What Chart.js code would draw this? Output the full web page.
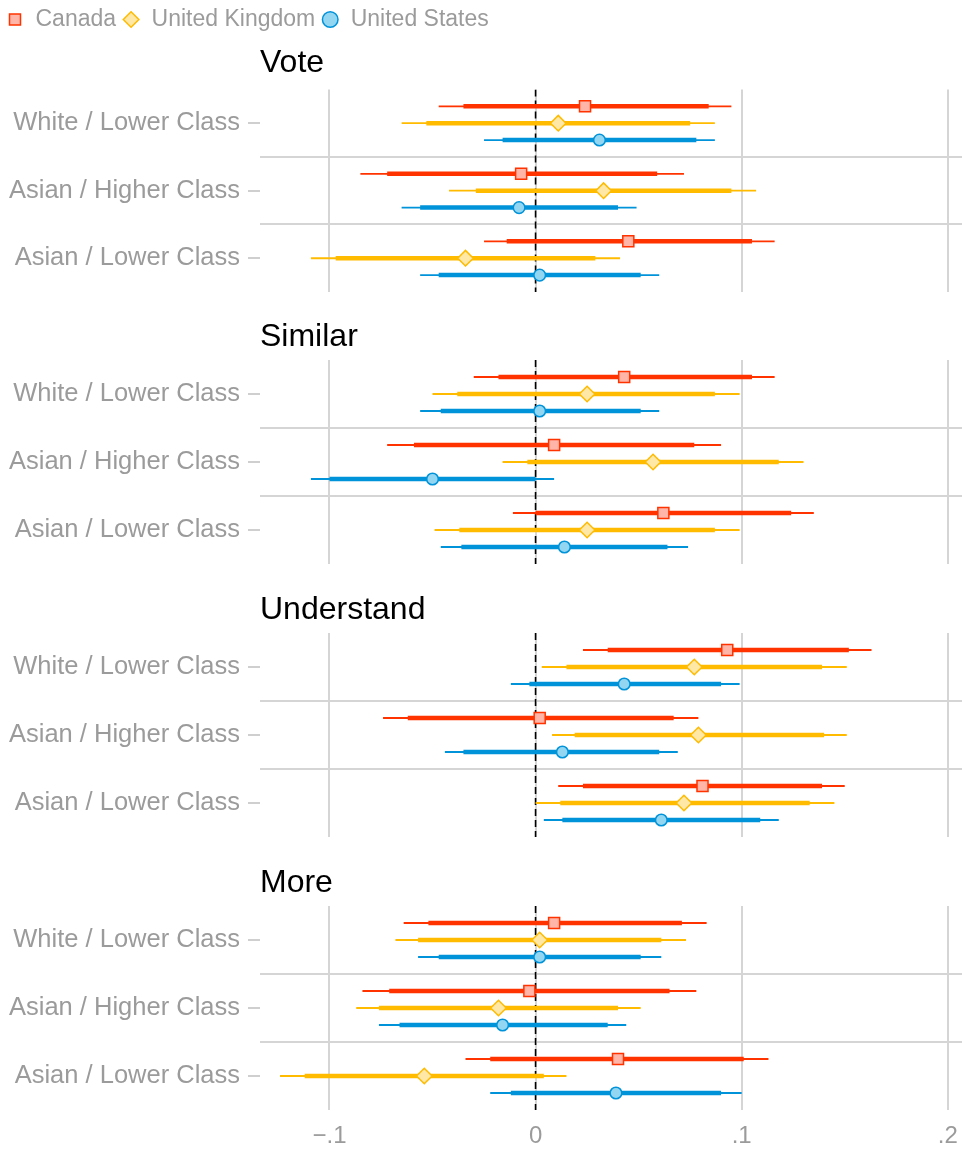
<!DOCTYPE html>
<html>
<head>
<meta charset="utf-8">
<script src="https://cdn.jsdelivr.net/npm/chart.js@4.4.1/dist/chart.umd.min.js"></script>
<style>
  body { margin: 0; background: #fff; overflow: hidden; }
  #wrap { position: relative; width: 962px; height: 1152px; overflow: hidden; }
  .panel { position: absolute; left: 0; width: 962px; }
</style>
</head>
<body>
<div id="wrap">
  <div class="panel" style="top:0px;height:292px"><canvas id="c0"></canvas></div>
  <div class="panel" style="top:307px;height:257px"><canvas id="c1"></canvas></div>
  <div class="panel" style="top:580px;height:257px"><canvas id="c2"></canvas></div>
  <div class="panel" style="top:853px;height:309px"><canvas id="c3"></canvas></div>
</div>
<script>
// labels
const panelNames = ['Vote', 'Similar', 'Understand', 'More'];
const categories = ['White / Lower Class', 'Asian / Higher Class', 'Asian / Lower Class'];
const countries = ['Canada', 'United Kingdom', 'United States'];
const xTicks = [-0.1, 0, 0.1, 0.2];
const xTickLabels = ['\u2212.1', '0', '.1', '.2'];

// rows = country (Canada, UK, US), columns = category
const voteEst  = [[0.024, -0.007, 0.045], [0.011, 0.033, -0.034], [0.031, -0.008, 0.002]];
const voteLo95 = [[-0.047, -0.085, -0.025], [-0.065, -0.042, -0.109], [-0.025, -0.065, -0.056]];
const voteHi95 = [[0.095, 0.072, 0.116], [0.087, 0.107, 0.041], [0.087, 0.049, 0.060]];
const voteLo90 = [[-0.035, -0.072, -0.014], [-0.053, -0.029, -0.097], [-0.016, -0.056, -0.047]];
const voteHi90 = [[0.084, 0.059, 0.105], [0.075, 0.095, 0.029], [0.078, 0.040, 0.051]];

const similarEst  = [[0.043, 0.009, 0.062], [0.025, 0.057, 0.025], [0.002, -0.050, 0.014]];
const similarLo95 = [[-0.030, -0.072, -0.011], [-0.050, -0.016, -0.049], [-0.056, -0.109, -0.046]];
const similarHi95 = [[0.116, 0.090, 0.135], [0.099, 0.130, 0.099], [0.060, 0.009, 0.074]];
const similarLo90 = [[-0.018, -0.059, 0.000], [-0.038, -0.004, -0.037], [-0.046, -0.100, -0.036]];
const similarHi90 = [[0.105, 0.077, 0.124], [0.087, 0.118, 0.087], [0.051, 0.000, 0.064]];

const understandEst  = [[0.093, 0.002, 0.081], [0.077, 0.079, 0.072], [0.043, 0.013, 0.061]];
const understandLo95 = [[0.023, -0.074, 0.011], [0.003, 0.008, 0.000], [-0.012, -0.044, 0.004]];
const understandHi95 = [[0.163, 0.079, 0.150], [0.151, 0.151, 0.145], [0.099, 0.069, 0.118]];
const understandLo90 = [[0.035, -0.062, 0.023], [0.015, 0.019, 0.012], [-0.003, -0.035, 0.013]];
const understandHi90 = [[0.152, 0.067, 0.139], [0.139, 0.140, 0.133], [0.090, 0.060, 0.109]];

const moreEst  = [[0.009, -0.003, 0.040], [0.002, -0.018, -0.054], [0.002, -0.016, 0.039]];
const moreLo95 = [[-0.064, -0.084, -0.034], [-0.068, -0.087, -0.124], [-0.057, -0.076, -0.022]];
const moreHi95 = [[0.083, 0.078, 0.113], [0.073, 0.051, 0.015], [0.061, 0.044, 0.100]];
const moreLo90 = [[-0.052, -0.071, -0.022], [-0.057, -0.076, -0.112], [-0.047, -0.066, -0.012]];
const moreHi90 = [[0.071, 0.065, 0.101], [0.061, 0.040, 0.004], [0.051, 0.035, 0.090]];

const panels = [
  [voteEst, voteLo95, voteHi95, voteLo90, voteHi90],
  [similarEst, similarLo95, similarHi95, similarLo90, similarHi90],
  [understandEst, understandLo95, understandHi95, understandLo90, understandHi90],
  [moreEst, moreLo95, moreHi95, moreLo90, moreHi90]
];

const FONT = "'Liberation Sans', Arial, Helvetica, sans-serif";
const GREY = '#9b9b9b';
const GRID = '#d5d5d5';
const lineColors = ['#ff3300', '#ffbb00', '#0093d9'];
const fillColors = ['#ffb5a8', '#ffe7a6', '#92d6f2'];
const markers = ['rect', 'rectRot', 'circle'];
const markerSize = [7.8, 7.8, 5.8];
const rowOffset = [0.25, 0.5, 0.75];

function intervalSets(lo, hi, width) {
  const sets = [];
  countries.forEach((c, k) => {
    categories.forEach((cat, j) => {
      sets.push({
        type: 'line',
        label: c + ' ' + cat,
        data: [{ x: lo[k][j], y: j + rowOffset[k] }, { x: hi[k][j], y: j + rowOffset[k] }],
        borderColor: lineColors[k],
        borderWidth: width,
        pointRadius: 0
      });
    });
  });
  return sets;
}

function makeChart(i) {
  const [est, lo95, hi95, lo90, hi90] = panels[i];
  const first = i === 0;
  const last = i === panels.length - 1;
  let datasets = [];

  // markers (first datasets are drawn on top)
  countries.forEach((c, k) => {
    datasets.push({
      type: 'scatter',
      label: c,
      data: categories.map((cat, j) => ({ x: est[k][j], y: j + rowOffset[k] })),
      pointStyle: markers[k],
      pointRadius: markerSize[k],
      backgroundColor: fillColors[k],
      borderColor: lineColors[k],
      borderWidth: 1.5
    });
  });
  datasets = datasets.concat(intervalSets(lo90, hi90, 4.5));
  datasets = datasets.concat(intervalSets(lo95, hi95, 1.8));
  // dashed zero line
  datasets.push({
    type: 'line',
    label: 'zero',
    data: [{ x: 0, y: 0 }, { x: 0, y: 3 }],
    borderColor: '#000',
    borderWidth: 1.6,
    borderDash: [7, 4],
    pointRadius: 0
  });

  return new Chart(document.getElementById('c' + i), {
    type: 'scatter',
    data: { datasets: datasets },
    options: {
      responsive: true,
      maintainAspectRatio: false,
      animation: false,
      events: [],
      layout: { padding: { top: first ? 2 : 0 }, autoPadding: false },
      plugins: {
        tooltip: { enabled: false },
        title: {
          display: true,
          text: panelNames[i],
          align: 'start',
          fullSize: false,
          color: '#000',
          font: { family: FONT, size: 32, weight: 'normal' },
          padding: first ? { top: 3, bottom: 7 } : { top: 11, bottom: 3.6 }
        },
        legend: {
          display: first,
          position: 'top',
          align: 'start',
          weight: 3000,
          labels: {
            filter: (item) => item.datasetIndex < 3,
            usePointStyle: true,
            boxWidth: 18,
            boxHeight: 11,
            padding: 6,
            color: GREY,
            font: { family: FONT, size: 23 }
          }
        }
      },
      scales: {
        x: {
          type: 'linear',
          min: -0.1337,
          max: 0.2069,
          afterBuildTicks: (s) => { s.ticks = xTicks.map(v => ({ value: v })); },
          afterFit: (s) => { s.paddingLeft = 0; s.paddingRight = 0; },
          grid: { color: GRID, lineWidth: 2, drawTicks: false },
          border: { display: false },
          ticks: {
            display: last,
            padding: 14,
            color: GREY,
            font: { family: FONT, size: 24, lineHeight: 1 },
            callback: (v, idx) => xTickLabels[idx]
          }
        },
        y: {
          type: 'linear',
          min: 0,
          max: 3,
          reverse: true,
          offset: false,
          afterBuildTicks: (s) => { s.ticks = [0.5, 1, 1.5, 2, 2.5].map(v => ({ value: v })); },
          afterFit: (s) => { s.width = 260; s.paddingTop = 0; s.paddingBottom = 0; },
          grid: {
            offset: false,
            drawOnChartArea: true,
            tickLength: 12,
            lineWidth: 2,
            color: (ctx) => (ctx.tick && ctx.tick.value % 1 === 0) ? GRID : 'rgba(0,0,0,0)',
            tickColor: (ctx) => (ctx.tick && ctx.tick.value % 1 !== 0) ? '#cfcfcf' : 'rgba(0,0,0,0)'
          },
          border: { display: false },
          ticks: {
            autoSkip: false,
            padding: 8,
            color: GREY,
            font: { family: FONT, size: 25.5 },
            callback: (v) => (v % 1 !== 0) ? categories[Math.floor(v)] : ''
          }
        }
      }
    }
  });
}

panels.forEach((p, i) => makeChart(i));
</script>
</body>
</html>
